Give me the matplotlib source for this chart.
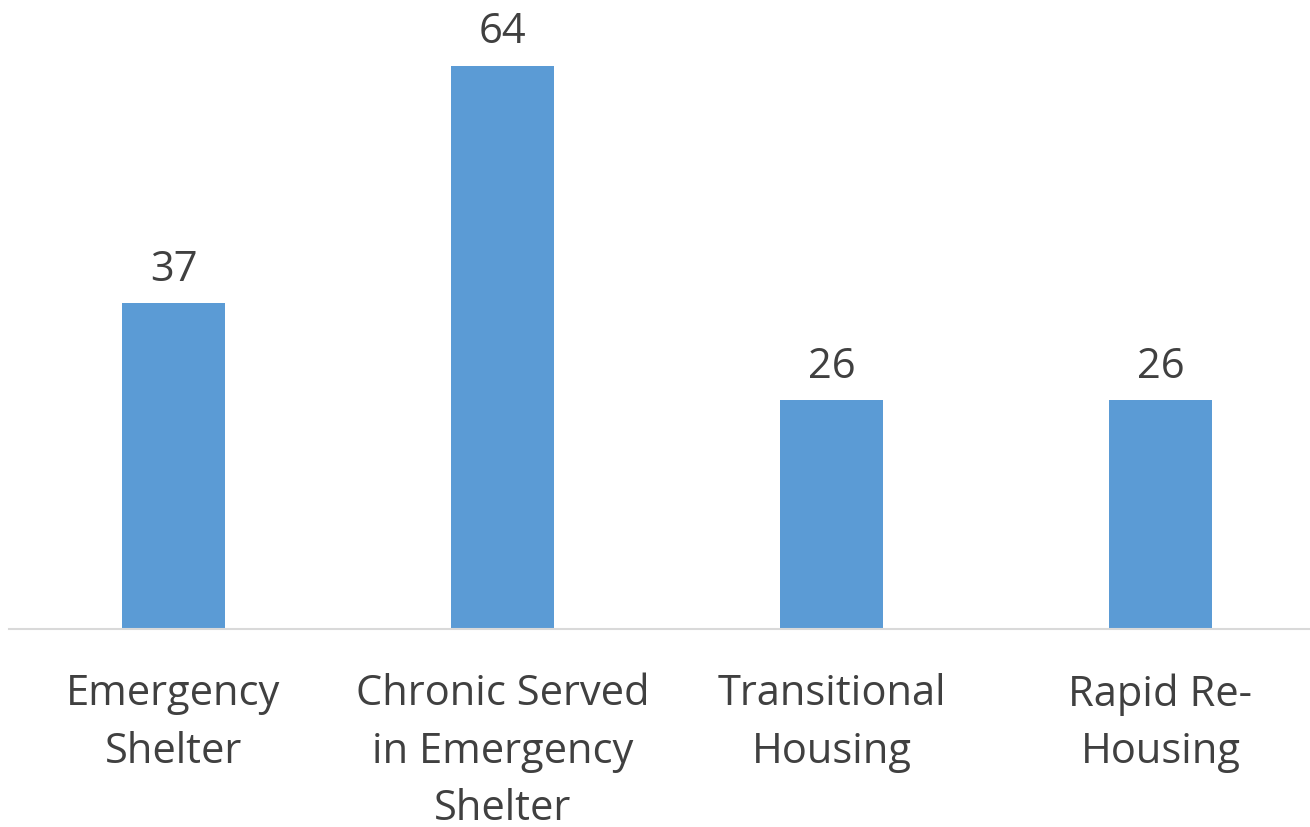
import matplotlib.pyplot as plt

categories = ["Emergency\nShelter", "Chronic Served\nin Emergency\nShelter", "Transitional\nHousing", "Rapid Re-\nHousing"]
values = [37, 64, 26, 26]

plt.rcParams['font.family'] = ['Open Sans', 'DejaVu Sans']
grey = '#404040'

fig = plt.figure(figsize=(13.1, 8.27), dpi=100)
ax = fig.add_axes([9/1310, (827-629)/827, 1316/1310, 616/827])

x = range(len(values))
bars = ax.bar(x, values, width=0.313, color='#5B9BD5')

for b, v in zip(bars, values):
    ax.annotate(str(v), (b.get_x() + b.get_width()/2, v), xytext=(0, 9),
                textcoords='offset points', ha='center', va='bottom',
                fontsize=30, color=grey)

ax.set_xlim(-0.5, 3.5)
ax.set_ylim(0, 70)
ax.set_xticks(list(x))
ax.set_xticklabels(categories, fontsize=30, color=grey, linespacing=1.48)
ax.tick_params(axis='x', length=0, pad=32)
ax.set_yticks([])
for s in ['top', 'right', 'left']:
    ax.spines[s].set_visible(False)
ax.spines['bottom'].set_color('#D9D9D9')
ax.spines['bottom'].set_linewidth(1.5)

fig.savefig('out.png', dpi=100)
